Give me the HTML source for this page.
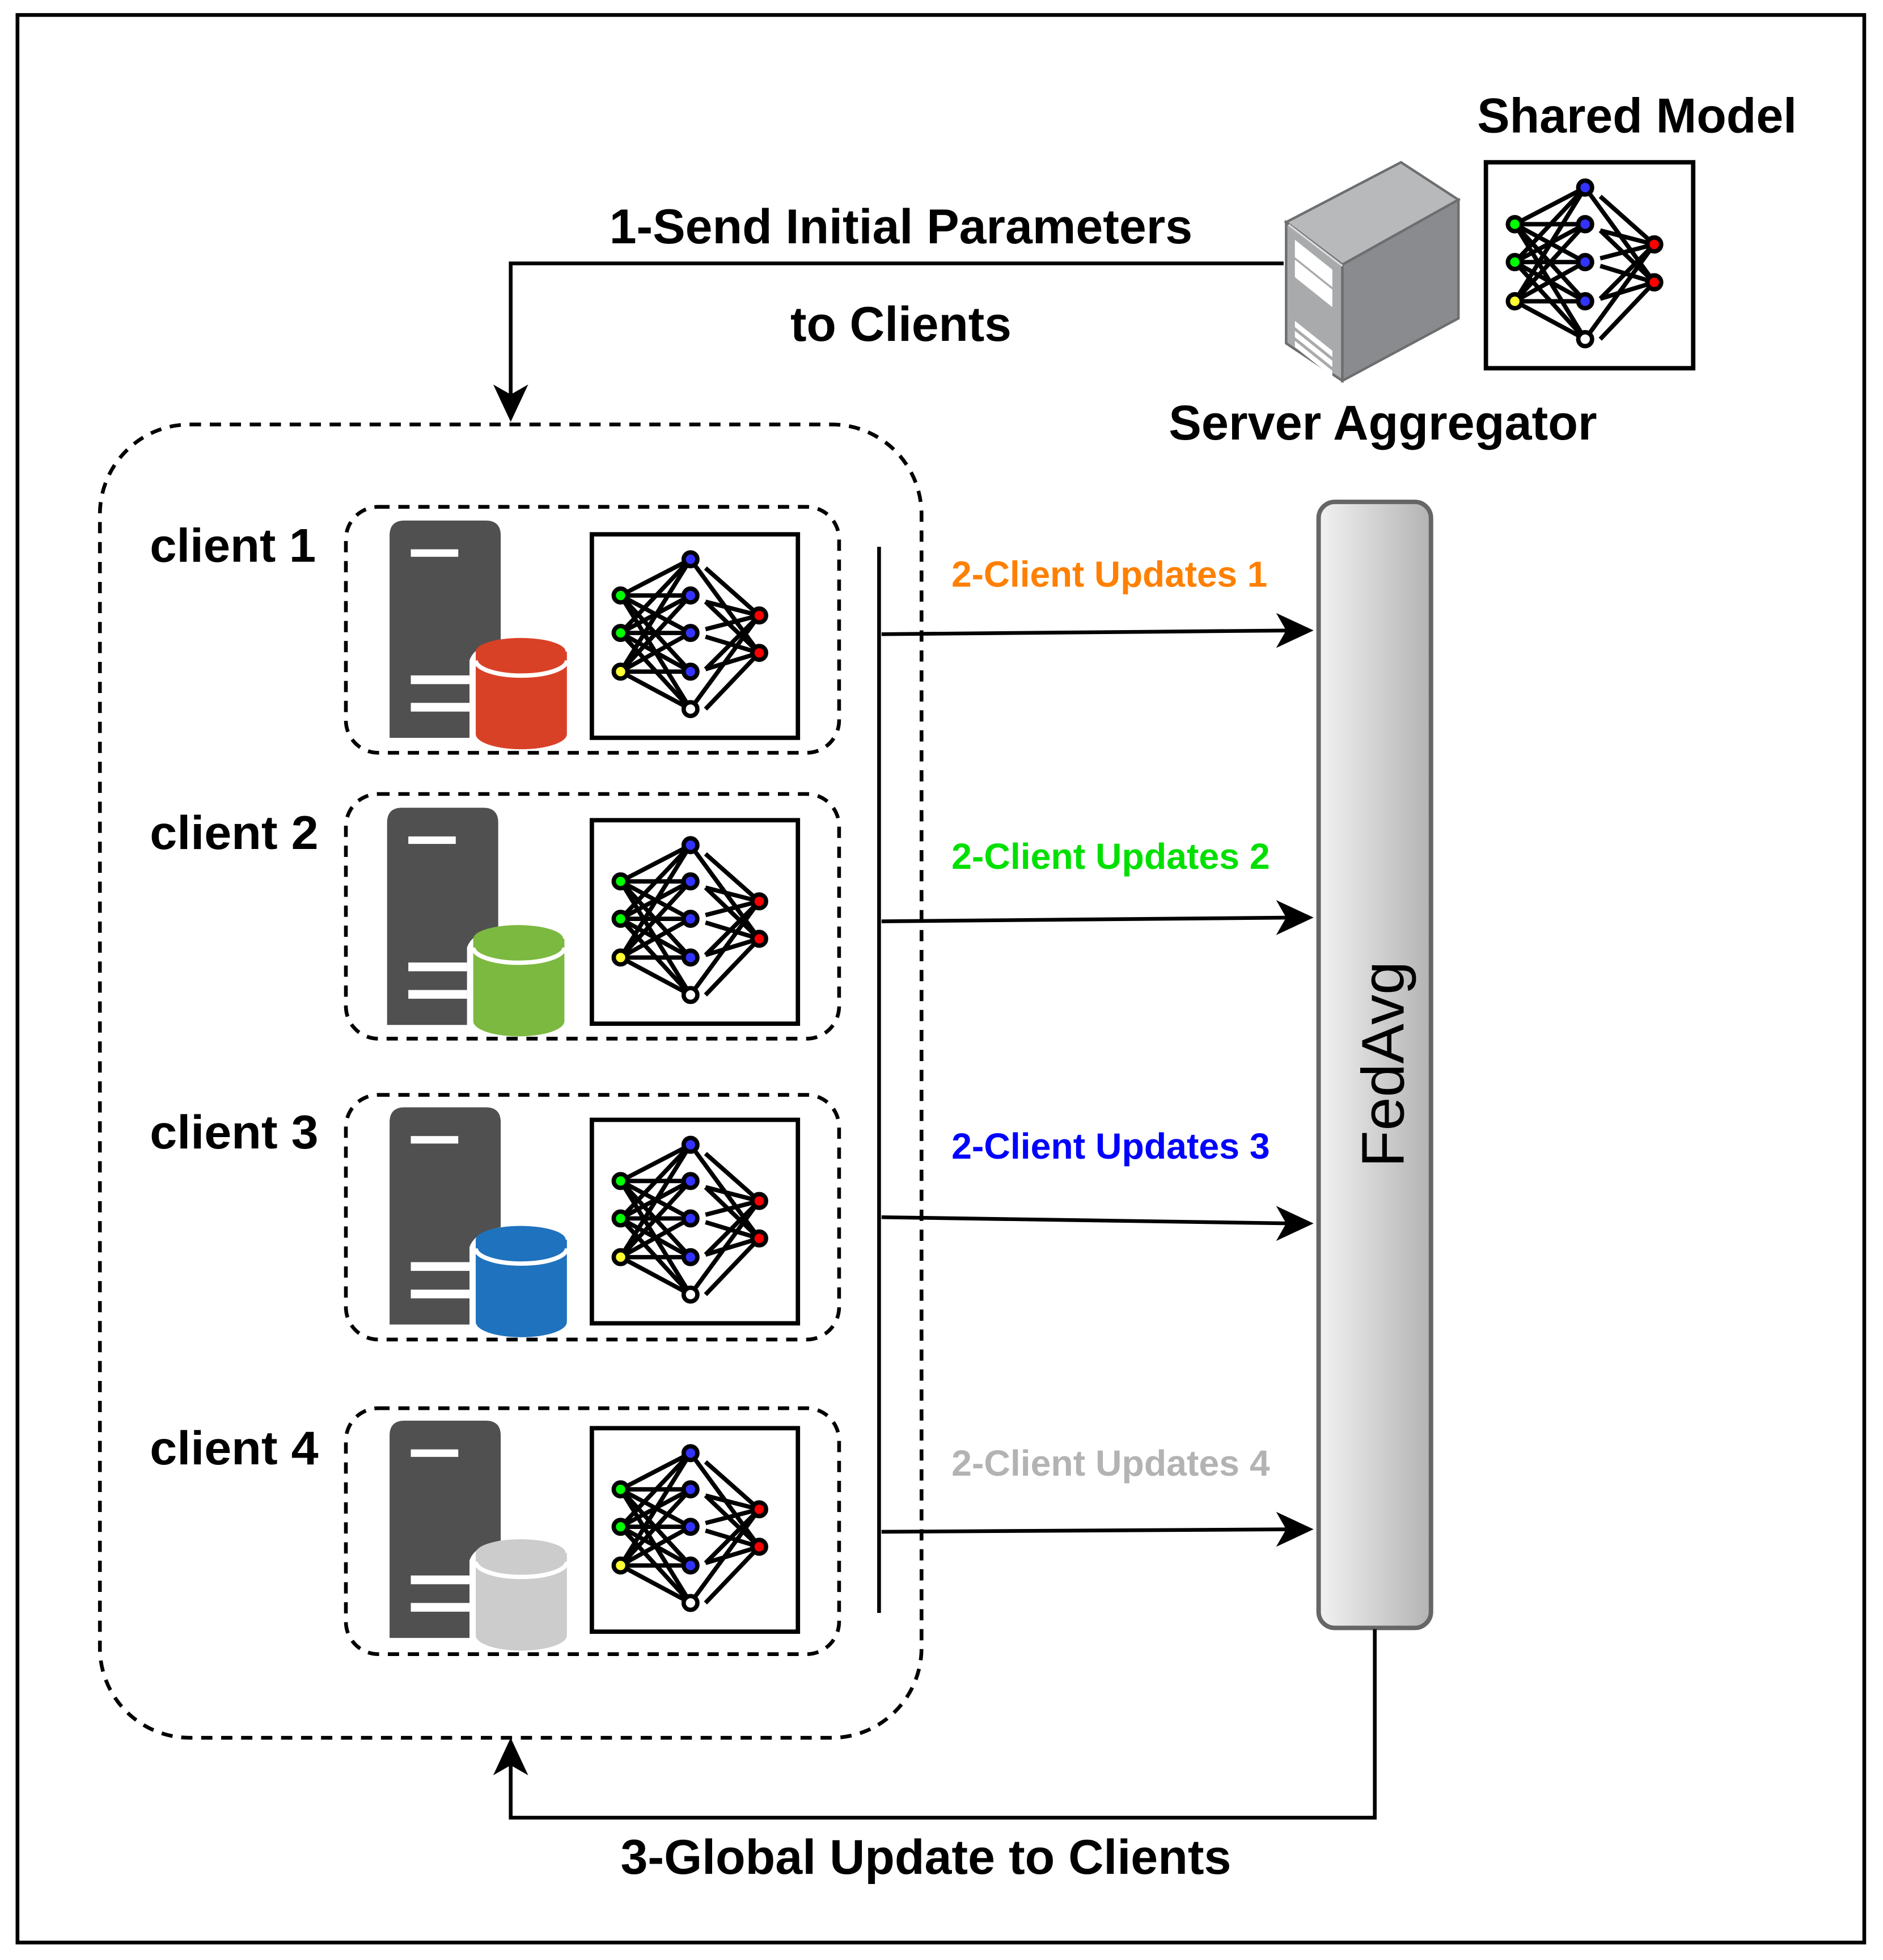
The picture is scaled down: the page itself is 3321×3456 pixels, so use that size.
<!DOCTYPE html>
<html><head><meta charset="utf-8"><style>
html,body{margin:0;padding:0;background:#fff}
svg{display:block}
text{font-family:"Liberation Sans",Arial,sans-serif;font-weight:bold}
</style></head><body>
<svg width="3321" height="3456" viewBox="0 0 1508 1570" preserveAspectRatio="none" xmlns="http://www.w3.org/2000/svg">
<defs>
<linearGradient id="bar" x1="0" x2="1" y1="0" y2="0"><stop offset="0" stop-color="#f2f2f2"/><stop offset="1" stop-color="#b3b3b3"/></linearGradient>
<g id="nn">
 <rect x="0" y="0" width="165" height="163" fill="#fff" stroke="#000" stroke-width="3.5"/>
 <g stroke="#000" stroke-width="3.5">
  <line x1="23" y1="49" x2="79" y2="20"/><line x1="23" y1="49" x2="79" y2="49"/><line x1="23" y1="49" x2="79" y2="79"/><line x1="23" y1="49" x2="79" y2="110"/><line x1="23" y1="49" x2="79" y2="140"/>
  <line x1="23" y1="79" x2="79" y2="20"/><line x1="23" y1="79" x2="79" y2="49"/><line x1="23" y1="79" x2="79" y2="79"/><line x1="23" y1="79" x2="79" y2="110"/><line x1="23" y1="79" x2="79" y2="140"/>
  <line x1="23" y1="110" x2="79" y2="20"/><line x1="23" y1="110" x2="79" y2="49"/><line x1="23" y1="110" x2="79" y2="79"/><line x1="23" y1="110" x2="79" y2="110"/><line x1="23" y1="110" x2="79" y2="140"/>
  <line x1="79" y1="20" x2="134" y2="95"/><line x1="91" y1="27" x2="134" y2="65"/>
  <line x1="91" y1="54" x2="134" y2="65"/><line x1="91" y1="54" x2="134" y2="95"/>
  <line x1="91" y1="76" x2="134" y2="65"/><line x1="91" y1="82" x2="134" y2="95"/>
  <line x1="91" y1="108" x2="134" y2="65"/><line x1="91" y1="108" x2="134" y2="95"/>
  <line x1="79" y1="140" x2="134" y2="65"/><line x1="91" y1="140" x2="134" y2="95"/>
 </g>
 <g stroke="#000" stroke-width="3.5">
  <circle cx="23" cy="49" r="5.5" fill="#0f0"/><circle cx="23" cy="79" r="5.5" fill="#0f0"/><circle cx="23" cy="110" r="5.5" fill="#ff3"/>
  <circle cx="79" cy="20" r="5.5" fill="#33f"/><circle cx="79" cy="49" r="5.5" fill="#33f"/><circle cx="79" cy="79" r="5.5" fill="#33f"/><circle cx="79" cy="110" r="5.5" fill="#33f"/><circle cx="79" cy="140" r="5.5" fill="#fff"/>
  <circle cx="134" cy="65" r="5.5" fill="#f00"/><circle cx="134" cy="95" r="5.5" fill="#f00"/>
 </g>
</g>
<g id="srv">
 <path d="M0,12 Q0,0 12,0 L77,0 Q89,0 89,12 L89,96 Q68,100 64,112 L64,174 L0,174 Z" fill="#505050"/>
 <rect x="17" y="23" width="38" height="6" fill="#fff"/>
 <rect x="17" y="124" width="47" height="7" fill="#fff"/>
 <rect x="17" y="146" width="47" height="7" fill="#fff"/>
</g>
</defs>

<rect x="14" y="12" width="1479" height="1544" fill="none" stroke="#000" stroke-width="3"/>

<!-- big dashed group -->
<rect x="80" y="340" width="658" height="1052" rx="72" fill="none" stroke="#000" stroke-width="3" stroke-dasharray="9,7"/>

<!-- clients -->
<g>
 <rect x="277" y="406" width="395" height="197" rx="26" fill="none" stroke="#000" stroke-width="3" stroke-dasharray="9,7"/>
 <use href="#srv" x="312" y="417"/>
 <path d="M381,522 L381,588 A36,12 0 0 0 454,588 L454,522 Z" fill="#d94127"/><ellipse cx="417" cy="522" rx="36" ry="11" fill="#d94127"/><path d="M381,529 A36,12 0 0 0 454,529" fill="none" stroke="#fff" stroke-width="3.5"/>
 <use href="#nn" x="474" y="428"/>
 <text x="120" y="450" font-size="38" textLength="133" lengthAdjust="spacingAndGlyphs">client 1</text>
</g>
<g>
 <rect x="277" y="636" width="395" height="196" rx="26" fill="none" stroke="#000" stroke-width="3" stroke-dasharray="9,7"/>
 <use href="#srv" x="310" y="647"/>
 <path d="M379,752 L379,818 A36,12 0 0 0 452,818 L452,752 Z" fill="#7cb940"/><ellipse cx="415" cy="752" rx="36" ry="11" fill="#7cb940"/><path d="M379,759 A36,12 0 0 0 452,759" fill="none" stroke="#fff" stroke-width="3.5"/>
 <use href="#nn" x="474" y="657"/>
 <text x="120" y="680" font-size="38" textLength="135" lengthAdjust="spacingAndGlyphs">client 2</text>
</g>
<g>
 <rect x="277" y="877" width="395" height="196" rx="26" fill="none" stroke="#000" stroke-width="3" stroke-dasharray="9,7"/>
 <use href="#srv" x="312" y="887"/>
 <path d="M381,993 L381,1059 A36,12 0 0 0 454,1059 L454,993 Z" fill="#1f72bd"/><ellipse cx="417" cy="993" rx="36" ry="11" fill="#1f72bd"/><path d="M381,1000 A36,12 0 0 0 454,1000" fill="none" stroke="#fff" stroke-width="3.5"/>
 <use href="#nn" x="474" y="897"/>
 <text x="120" y="920" font-size="38" textLength="135" lengthAdjust="spacingAndGlyphs">client 3</text>
</g>
<g>
 <rect x="277" y="1128" width="395" height="197" rx="26" fill="none" stroke="#000" stroke-width="3" stroke-dasharray="9,7"/>
 <use href="#srv" x="312" y="1138"/>
 <path d="M381,1244 L381,1310 A36,12 0 0 0 454,1310 L454,1244 Z" fill="#cccccc"/><ellipse cx="417" cy="1244" rx="36" ry="11" fill="#cccccc"/><path d="M381,1251 A36,12 0 0 0 454,1251" fill="none" stroke="#fff" stroke-width="3.5"/>
 <use href="#nn" x="474" y="1144"/>
 <text x="120" y="1173" font-size="38" textLength="135" lengthAdjust="spacingAndGlyphs">client 4</text>
</g>

<!-- vertical line -->
<line x1="704" y1="438" x2="704" y2="1292" stroke="#000" stroke-width="3"/>

<!-- update arrows -->
<g stroke="#000" stroke-width="3" fill="none">
 <line x1="706" y1="508" x2="1035" y2="505"/>
 <line x1="706" y1="738" x2="1035" y2="735"/>
 <line x1="706" y1="975" x2="1035" y2="980"/>
 <line x1="706" y1="1227" x2="1035" y2="1225"/>
</g>
<g fill="#000">
 <path d="M1052,505 L1022,491 L1030,505 L1022,519 Z"/>
 <path d="M1052,735 L1022,721 L1030,735 L1022,749 Z"/>
 <path d="M1052,980 L1022,966 L1030,980 L1022,994 Z"/>
 <path d="M1052,1225 L1022,1211 L1030,1225 L1022,1239 Z"/>
</g>
<text x="762" y="470" font-size="29" fill="#ff8000" textLength="253" lengthAdjust="spacingAndGlyphs">2-Client Updates 1</text>
<text x="762" y="696" font-size="29" fill="#00e000" textLength="255" lengthAdjust="spacingAndGlyphs">2-Client Updates 2</text>
<text x="762" y="928" font-size="29" fill="#0000ff" textLength="255" lengthAdjust="spacingAndGlyphs">2-Client Updates 3</text>
<text x="762" y="1182" font-size="29" fill="#b3b3b3" textLength="255" lengthAdjust="spacingAndGlyphs">2-Client Updates 4</text>

<!-- FedAvg bar -->
<rect x="1056" y="402" width="90" height="902" rx="13" fill="url(#bar)" stroke="#666" stroke-width="3.6"/>
<text transform="translate(1124,935) rotate(-90)" font-size="48" font-weight="normal" style="font-weight:normal" textLength="165" lengthAdjust="spacingAndGlyphs">FedAvg</text>

<!-- top connector -->
<polyline points="1028,211 409,211 409,320" fill="none" stroke="#000" stroke-width="3"/>
<path d="M409,338 L395,308 L409,316 L423,308 Z" fill="#000"/>
<text x="488" y="195" font-size="39" textLength="467" lengthAdjust="spacingAndGlyphs">1-Send Initial Parameters</text>
<text x="633" y="273" font-size="39" textLength="177" lengthAdjust="spacingAndGlyphs">to Clients</text>

<!-- bottom connector -->
<polyline points="1101,1305 1101,1456 409,1456 409,1412" fill="none" stroke="#000" stroke-width="3"/>
<path d="M409,1392 L395,1422 L409,1414 L423,1422 Z" fill="#000"/>
<text x="497" y="1501" font-size="39" textLength="489" lengthAdjust="spacingAndGlyphs">3-Global Update to Clients</text>

<!-- server aggregator 3D -->
<polygon points="1030,178 1122,130 1168,160 1075,212" fill="#b8b9bb" stroke="#6d6e70" stroke-width="2"/>
<polygon points="1075,212 1168,160 1168,255 1075,305" fill="#8a8b8e" stroke="#6d6e70" stroke-width="2"/>
<polygon points="1030,178 1075,212 1075,305 1030,275" fill="#a9aaac" stroke="#6d6e70" stroke-width="2"/>
<line x1="1032" y1="180" x2="1075" y2="213" stroke="#ddd" stroke-width="1.5"/>
<g fill="#fff">
 <polygon points="1037,192 1067,216 1067,230 1037,206"/>
 <polygon points="1037,208 1067,232 1067,246 1037,222"/>
 <polygon points="1037,257 1067,281 1067,286 1037,262"/>
 <polygon points="1037,265 1067,289 1067,294 1037,270"/>
 <polygon points="1037,273 1067,297 1067,302 1037,278"/>
</g>
<text x="936" y="352" font-size="39" textLength="343" lengthAdjust="spacingAndGlyphs">Server Aggregator</text>

<!-- shared model -->
<text x="1183" y="106" font-size="39" textLength="256" lengthAdjust="spacingAndGlyphs">Shared Model</text>
<g transform="translate(1190,130) scale(1.006,1.012)">
 <use href="#nn" x="0" y="0"/>
</g>
</svg>
</body></html>
